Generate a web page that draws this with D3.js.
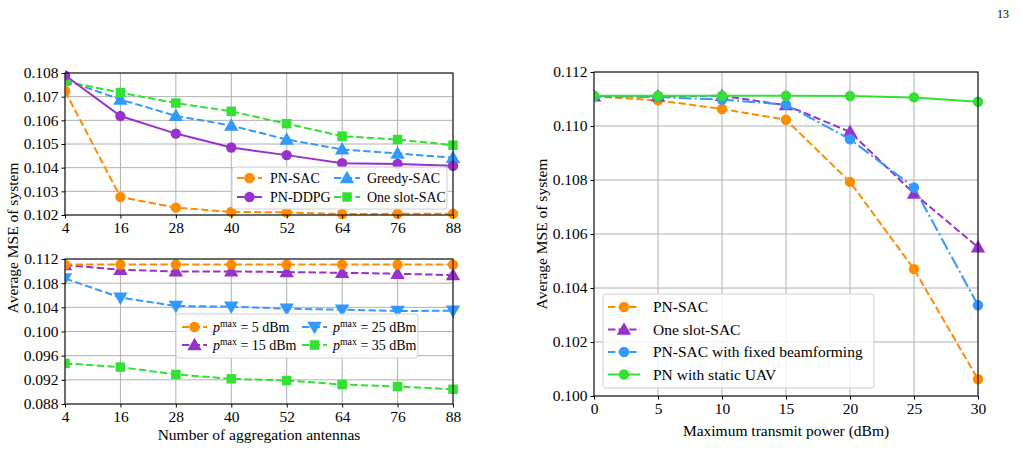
<!DOCTYPE html>
<html>
<head>
<meta charset="utf-8">
<script src="https://cdn.jsdelivr.net/npm/d3@7"></script>
<style>
  body { margin: 0; background: #fff; }
  svg { display: block; }
  svg text { font-family: "Liberation Serif", "Times New Roman", serif; }
</style>
</head>
<body>
<svg id="fig" width="1020" height="450"></svg>
<script>
// ---- data ----
const antennas = [4, 16, 28, 40, 52, 64, 76, 88];
const antennaTicks = [4, 16, 28, 40, 52, 64, 76, 88];

// top-left panel
const pnSacAnt     = [0.10724, 0.10276, 0.10231, 0.10213, 0.10211, 0.10204, 0.10205, 0.10205];
const pnDdpgAnt    = [0.10790, 0.10618, 0.10544, 0.10485, 0.10453, 0.10419, 0.10416, 0.10408];
const greedySacAnt = [0.10770, 0.10688, 0.10619, 0.10578, 0.10519, 0.10477, 0.10460, 0.10442];
const oneSlotAnt   = [0.10765, 0.10717, 0.10673, 0.10638, 0.10586, 0.10533, 0.10519, 0.10495];
const topTicks = [0.102, 0.103, 0.104, 0.105, 0.106, 0.107, 0.108];

// bottom-left panel
const pmax5  = [0.11108, 0.11108, 0.11108, 0.11108, 0.11108, 0.11107, 0.11108, 0.11107];
const pmax15 = [0.11100, 0.11022, 0.10994, 0.10994, 0.10983, 0.10972, 0.10956, 0.10933];
const pmax25 = [0.10878, 0.10561, 0.10422, 0.10411, 0.10378, 0.10361, 0.10339, 0.10344];
const pmax35 = [0.09472, 0.09411, 0.09289, 0.09217, 0.09189, 0.09122, 0.09089, 0.09044];
const bottomTicks = [0.088, 0.092, 0.096, 0.100, 0.104, 0.108, 0.112];

// right panel
const power = [0, 5, 10, 15, 20, 25, 30];
const powerTicks = [0, 5, 10, 15, 20, 25, 30];
const pnSacPow     = [0.11110, 0.11095, 0.11063, 0.11023, 0.10793, 0.10470, 0.10062];
const oneSlotPow   = [0.11110, 0.11110, 0.11112, 0.11077, 0.10978, 0.10750, 0.10551];
const fixedBfPow   = [0.11111, 0.11107, 0.11098, 0.11079, 0.10951, 0.10772, 0.10336];
const staticUavPow = [0.11112, 0.11112, 0.11112, 0.11112, 0.11111, 0.11106, 0.11090];
const rightTicks = [0.100, 0.102, 0.104, 0.106, 0.108, 0.110, 0.112];

const orange = "#ff8c00", purple = "#9932cc", blue = "#3399ff", green = "#33e033";
const font = "Liberation Serif, Times New Roman, serif";
const DASH = "7.4,3.2", DASHDOT = "12.8,3.2,2,3.2";

const svg = d3.select("#fig");

// page number
svg.append("text").attr("x", 1003).attr("y", 18).attr("font-size", 12)
    .attr("text-anchor", "middle").text("13");

let clipId = 0;

function symbolPath(shape, size) {
    if (shape === "circle") return d3.symbol(d3.symbolCircle, size)();
    if (shape === "square") return d3.symbol(d3.symbolSquare, size)();
    return d3.symbol(d3.symbolTriangle, size)();
}

function drawMarker(g, shape, color, x, y) {
    const size = shape === "square" ? 90 : (shape === "circle" ? 85 : 90);
    const rot = shape === "tridown" ? 180 : 0;
    const dy = shape === "triangle" ? 1 : (shape === "tridown" ? -1 : 0);
    g.append("path")
        .attr("d", symbolPath(shape, size))
        .attr("transform", `translate(${x},${y + dy}) rotate(${rot})`)
        .attr("fill", color);
}

function panel(cfg) {
    const x = d3.scaleLinear().domain(cfg.xDomain).range(cfg.xRange);
    const y = d3.scaleLinear().domain(cfg.yDomain).range(cfg.yRange);
    const [x0, x1] = cfg.xRange;
    const [y1, y0] = cfg.yRange;
    const g = svg.append("g");

    // grid
    g.append("g").selectAll("line").data(cfg.xTicks).join("line")
        .attr("x1", d => x(d)).attr("x2", d => x(d))
        .attr("y1", y0).attr("y2", y1)
        .attr("stroke", "#b0b0b0").attr("stroke-width", 1);
    g.append("g").selectAll("line").data(cfg.yTicks).join("line")
        .attr("x1", x0).attr("x2", x1)
        .attr("y1", d => y(d)).attr("y2", d => y(d))
        .attr("stroke", "#b0b0b0").attr("stroke-width", 1);

    // clip (left edge cut like matplotlib)
    const id = "clip" + (clipId++);
    svg.append("clipPath").attr("id", id).append("rect")
        .attr("x", x0).attr("y", y0 - 8).attr("width", x1 - x0 + 8).attr("height", y1 - y0 + 16);

    const plot = g.append("g").attr("clip-path", `url(#${id})`);
    const line = d3.line().x(d => x(d[0])).y(d => y(d[1]));
    cfg.series.forEach(s => {
        const pts = cfg.xs.map((v, i) => [v, s.values[i]]);
        plot.append("path").datum(pts)
            .attr("d", line)
            .attr("fill", "none")
            .attr("stroke", s.color)
            .attr("stroke-width", 2)
            .attr("stroke-dasharray", s.dash || null);
        pts.forEach(p => drawMarker(plot, s.shape, s.color, x(p[0]), y(p[1])));
    });

    // axes
    const ax = g.append("g").attr("transform", `translate(0,${y1})`)
        .call(d3.axisBottom(x).tickValues(cfg.xTicks).tickSize(3.5).tickPadding(3).tickFormat(d3.format("d")));
    const ay = g.append("g").attr("transform", `translate(${x0},0)`)
        .call(d3.axisLeft(y).tickValues(cfg.yTicks).tickSize(3.5).tickPadding(3).tickFormat(d3.format(".3f")));
    [ax, ay].forEach(a => {
        a.attr("font-family", font);
        a.select(".domain").remove();
        a.selectAll("text").attr("font-size", 15.5).attr("fill", "#000");
        a.selectAll("line").attr("stroke", "#000");
    });

    // frame
    g.append("rect").attr("x", x0).attr("y", y0)
        .attr("width", x1 - x0).attr("height", y1 - y0)
        .attr("fill", "none").attr("stroke", "#000").attr("stroke-width", 1);

    return { x, y, g };
}

function legend(box, items, cols, opts) {
    const g = svg.append("g");
    g.append("rect").attr("x", box.x).attr("y", box.y).attr("width", box.w).attr("height", box.h)
        .attr("rx", 3).attr("fill", "#fff").attr("fill-opacity", 0.85)
        .attr("stroke", "#d0d0d0").attr("stroke-width", 1);
    items.forEach(it => {
        const c = cols[it.col];
        const yy = opts.rows[it.row];
        g.append("line").attr("x1", c.hx0).attr("x2", c.hx1).attr("y1", yy).attr("y2", yy)
            .attr("stroke", it.color).attr("stroke-width", 2)
            .attr("stroke-dasharray", it.dash || null);
        drawMarker(g, it.shape, it.color, (c.hx0 + c.hx1) / 2, yy);
        const t = g.append("text").attr("x", c.tx).attr("y", yy + opts.fs * 0.33)
            .attr("font-size", opts.fs);
        if (it.pmax !== undefined) {
            t.append("tspan").attr("font-style", "italic").text("p");
            t.append("tspan").attr("font-size", opts.fs * 0.7).attr("dy", -5).text("max");
            t.append("tspan").attr("dy", 5).text(` = ${it.pmax} dBm`);
        } else {
            t.text(it.label);
        }
    });
}

// ---- top-left ----
panel({
    xDomain: [4, 88], xRange: [65, 453], xTicks: antennaTicks, xs: antennas,
    yDomain: [0.102, 0.108], yRange: [215, 73], yTicks: topTicks,
    series: [
        { values: pnSacAnt, color: orange, dash: DASH, shape: "circle" },
        { values: greedySacAnt, color: blue, dash: DASH, shape: "triangle" },
        { values: oneSlotAnt, color: green, dash: DASH, shape: "square" },
        { values: pnDdpgAnt, color: purple, dash: null, shape: "circle" }
    ]
});
legend({ x: 232, y: 167, w: 215, h: 42 }, [
    { label: "PN-SAC", color: orange, dash: DASH, shape: "circle", col: 0, row: 0 },
    { label: "PN-DDPG", color: purple, dash: null, shape: "circle", col: 0, row: 1 },
    { label: "Greedy-SAC", color: blue, dash: DASH, shape: "triangle", col: 1, row: 0 },
    { label: "One slot-SAC", color: green, dash: DASH, shape: "square", col: 1, row: 1 }
], [{ hx0: 237, hx1: 262, tx: 270 }, { hx0: 334, hx1: 360, tx: 367 }], { rows: [178, 197], fs: 14 });

// ---- bottom-left ----
panel({
    xDomain: [4, 88], xRange: [65, 453], xTicks: antennaTicks, xs: antennas,
    yDomain: [0.088, 0.112], yRange: [404, 259], yTicks: bottomTicks,
    series: [
        { values: pmax35, color: green, dash: DASH, shape: "square" },
        { values: pmax25, color: blue, dash: DASH, shape: "tridown" },
        { values: pmax15, color: purple, dash: DASH, shape: "triangle" },
        { values: pmax5, color: orange, dash: DASH, shape: "circle" }
    ]
});
legend({ x: 176, y: 314, w: 242, h: 44 }, [
    { pmax: 5, color: orange, dash: DASH, shape: "circle", col: 0, row: 0 },
    { pmax: 15, color: purple, dash: DASH, shape: "triangle", col: 0, row: 1 },
    { pmax: 25, color: blue, dash: DASH, shape: "tridown", col: 1, row: 0 },
    { pmax: 35, color: green, dash: DASH, shape: "square", col: 1, row: 1 }
], [{ hx0: 182, hx1: 207, tx: 213 }, { hx0: 302, hx1: 327, tx: 333 }], { rows: [327, 345], fs: 14 });

svg.append("text").attr("x", 259).attr("y", 440).attr("text-anchor", "middle")
    .attr("font-size", 15.5).text("Number of aggregation antennas");
svg.append("text").attr("transform", "translate(18,238) rotate(-90)").attr("text-anchor", "middle")
    .attr("font-size", 15.5).text("Average MSE of system");

// ---- right ----
panel({
    xDomain: [0, 30], xRange: [594, 978], xTicks: powerTicks, xs: power,
    yDomain: [0.100, 0.112], yRange: [396, 72], yTicks: rightTicks,
    series: [
        { values: pnSacPow, color: orange, dash: DASH, shape: "circle" },
        { values: oneSlotPow, color: purple, dash: DASH, shape: "triangle" },
        { values: fixedBfPow, color: blue, dash: DASHDOT, shape: "circle" },
        { values: staticUavPow, color: green, dash: null, shape: "circle" }
    ]
});
legend({ x: 603, y: 294, w: 271, h: 94 }, [
    { label: "PN-SAC", color: orange, dash: DASH, shape: "circle", col: 0, row: 0 },
    { label: "One slot-SAC", color: purple, dash: DASH, shape: "triangle", col: 0, row: 1 },
    { label: "PN-SAC with fixed beamforming", color: blue, dash: DASH, shape: "circle", col: 0, row: 2 },
    { label: "PN with static UAV", color: green, dash: null, shape: "circle", col: 0, row: 3 }
], [{ hx0: 608, hx1: 640, tx: 653 }], { rows: [307, 329.5, 352, 374.5], fs: 15.5 });

svg.append("text").attr("x", 786).attr("y", 436).attr("text-anchor", "middle")
    .attr("font-size", 15.5).text("Maximum transmit power (dBm)");
svg.append("text").attr("transform", "translate(547,234) rotate(-90)").attr("text-anchor", "middle")
    .attr("font-size", 15.5).text("Average MSE of system");
</script>
</body>
</html>
